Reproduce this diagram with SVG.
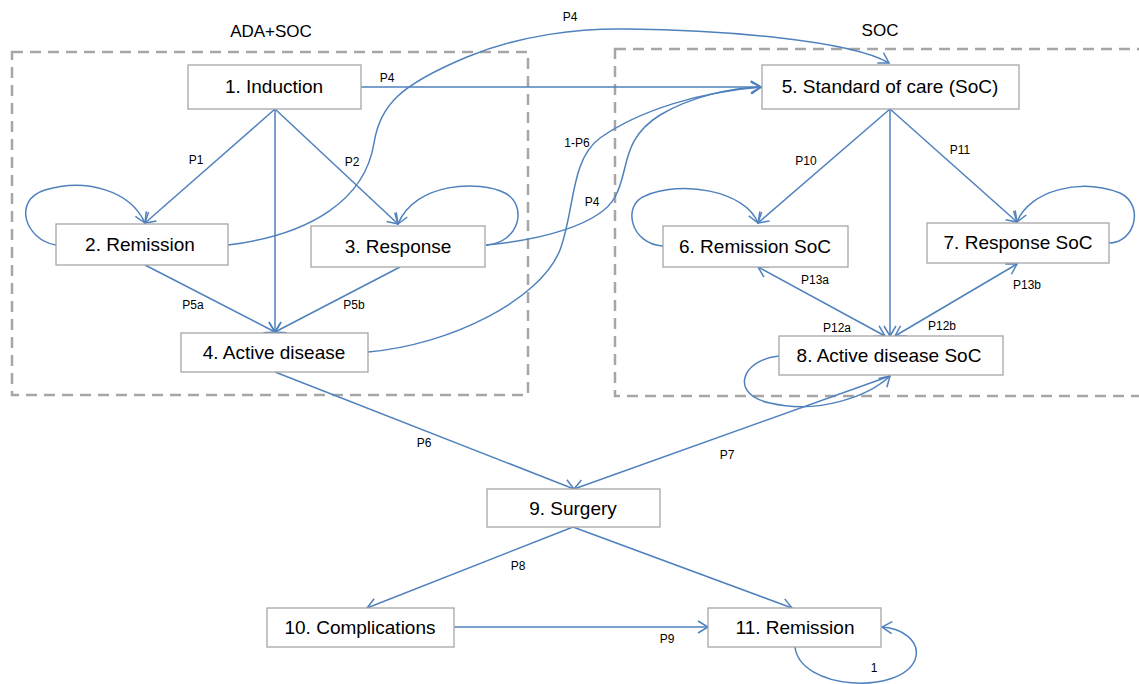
<svg xmlns="http://www.w3.org/2000/svg" width="1139" height="684" viewBox="0 0 1139 684">
<defs>
<marker id="arr" markerUnits="userSpaceOnUse" markerWidth="16" markerHeight="16" refX="11" refY="7" orient="auto-start-reverse">
<path d="M1,1 L11,7 L1,13" fill="none" stroke="#4f81bd" stroke-width="1.5"/>
</marker>
<style>
.grp{fill:none;stroke:#a6a6a6;stroke-width:2.5;stroke-dasharray:11 7}
.box{fill:#fff;stroke:#a6a6a6;stroke-width:1.3}
.nt{font-family:"Liberation Sans",Arial,sans-serif;font-size:19px;fill:#000;text-anchor:middle}
.gt{font-family:"Liberation Sans",Arial,sans-serif;font-size:17px;fill:#000;text-anchor:middle}
.el{font-family:"Liberation Sans",Arial,sans-serif;font-size:12px;fill:#000;text-anchor:middle}
.c{fill:none;stroke:#4f81bd;stroke-width:1.5}
.a{marker-end:url(#arr)}
.b{marker-start:url(#arr);marker-end:url(#arr)}
</style>
</defs>
<rect width="1139" height="684" fill="#fff"/>
<g id="groups">
<rect class="grp" x="12" y="52" width="516" height="343"/>
<rect class="grp" x="615" y="49" width="540" height="347"/>
<text class="gt" x="271" y="37">ADA+SOC</text>
<text class="gt" x="880" y="36">SOC</text>
</g>
<g id="connectors">
<path class="c a" d="M361,87 L761,87"/>
<path class="c a" d="M228,245 C310,235 365,200 374,143 C380,105 400,85 467,57 C520,35 580,28 628,29 C720,30 850,40 889,63"/>
<path class="c a" d="M486,245 C540,240 600,225 615,197 C630,170 620,140 660,115 C690,97 730,88 761,87"/>
<path class="c a" d="M368,352 C450,345 540,300 560,250 C575,210 570,160 600,138 C640,110 700,92 761,87"/>
<path class="c a" d="M56,245 C25,240 12,200 45,190 C85,178 130,190 145,223"/>
<path class="c a" d="M486,245 C520,243 528,205 505,193 C480,180 415,182 398,224"/>
<path class="c a" d="M275,109 L145,223"/>
<path class="c a" d="M275,109 L275,332"/>
<path class="c a" d="M275,109 L398,224"/>
<path class="c a" d="M145,265 L275,332"/>
<path class="c a" d="M400,267 L275,332"/>
<path class="c a" d="M275,372 L574,489"/>
<path class="c a" d="M890,376 L574,489"/>
<path class="c a" d="M779,356 C740,360 730,395 770,403 C820,415 870,395 890,376"/>
<path class="c a" d="M890,109 L758,223"/>
<path class="c a" d="M890,109 L890,336"/>
<path class="c a" d="M890,109 L1017,222"/>
<path class="c b" d="M758,267 L885,336"/>
<path class="c b" d="M1017,264 L895,336"/>
<path class="c a" d="M663,246 C630,244 622,205 645,196 C680,180 745,190 758,223"/>
<path class="c a" d="M1109,243 C1135,243 1145,205 1120,193 C1080,178 1030,190 1017,222"/>
<path class="c a" d="M573,527 L367,608"/>
<path class="c a" d="M573,527 L792,608"/>
<path class="c a" d="M454,627 L708,627"/>
<path class="c a" d="M795,647 C800,690 900,695 915,660 C922,640 900,628 882,627"/>
<text class="el" x="387" y="82">P4</text>
<text class="el" x="570" y="21">P4</text>
<text class="el" x="577" y="147">1-P6</text>
<text class="el" x="592" y="206">P4</text>
<text class="el" x="196" y="164">P1</text>
<text class="el" x="352" y="166">P2</text>
<text class="el" x="193" y="309">P5a</text>
<text class="el" x="354" y="309">P5b</text>
<text class="el" x="806" y="165">P10</text>
<text class="el" x="960" y="154">P11</text>
<text class="el" x="815" y="284">P13a</text>
<text class="el" x="1027" y="289">P13b</text>
<text class="el" x="837" y="332">P12a</text>
<text class="el" x="942" y="330">P12b</text>
<text class="el" x="424" y="447">P6</text>
<text class="el" x="727" y="459">P7</text>
<text class="el" x="518" y="570">P8</text>
<text class="el" x="667" y="643">P9</text>
<text class="el" x="874" y="672">1</text>
</g>
<g id="n1"><rect class="box" x="188" y="65" width="173" height="44"/><text class="nt" x="274" y="93">1. Induction</text></g>
<g id="n2"><rect class="box" x="56" y="224" width="172" height="41"/><text class="nt" x="140" y="251">2. Remission</text></g>
<g id="n3"><rect class="box" x="311" y="226" width="174" height="41"/><text class="nt" x="398" y="253">3. Response</text></g>
<g id="n4"><rect class="box" x="181" y="333" width="187" height="39"/><text class="nt" x="274" y="359">4. Active disease</text></g>
<g id="n5"><rect class="box" x="762" y="65" width="257" height="44"/><text class="nt" x="890" y="93">5. Standard of care (SoC)</text></g>
<g id="n6"><rect class="box" x="663" y="226" width="185" height="41"/><text class="nt" x="755" y="253">6. Remission SoC</text></g>
<g id="n7"><rect class="box" x="927" y="223" width="182" height="40"/><text class="nt" x="1018" y="249">7. Response SoC</text></g>
<g id="n8"><rect class="box" x="779" y="336" width="224" height="39"/><text class="nt" x="889" y="362">8. Active disease SoC</text></g>
<g id="n9"><rect class="box" x="487" y="489" width="173" height="38"/><text class="nt" x="573" y="515">9. Surgery</text></g>
<g id="n10"><rect class="box" x="267" y="608" width="187" height="39"/><text class="nt" x="360" y="634">10. Complications</text></g>
<g id="n11"><rect class="box" x="708" y="608" width="173" height="39"/><text class="nt" x="795" y="634">11. Remission</text></g>
</svg>
